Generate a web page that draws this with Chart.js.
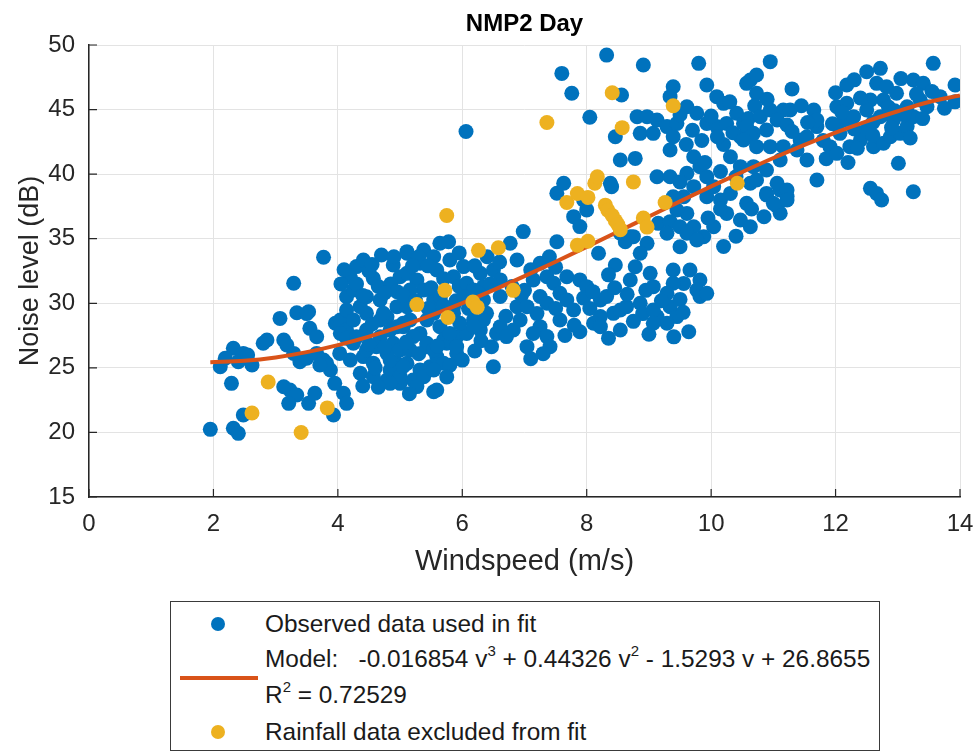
<!DOCTYPE html>
<html>
<head>
<meta charset="utf-8">
<script src="https://cdn.jsdelivr.net/npm/chart.js@4/dist/chart.umd.min.js"></script>
<style>
    body { margin: 0; background: #fff; }
    #wrap { position: relative; width: 979px; height: 752px; font-family: "Liberation Sans", Arial, sans-serif; color: #262626; }
    #chartBox { position: absolute; left: 0; top: 0; width: 979px; height: 752px; }
    #title { position: absolute; left: 89px; width: 871px; top: 9px; text-align: center; font-weight: bold; font-size: 24px; color: #000; }
    #legend { position: absolute; left: 170px; top: 601px; width: 708px; height: 148px; border: 1px solid #3a3a3a; background: #fff; }
    .row { position: absolute; left: 94px; font-size: 24.4px; white-space: nowrap; line-height: 26px; color: #1a1a1a; }
    .row sup { font-size: 15px; line-height: 0; position: relative; top: -2px; }
    .dot { position: absolute; left: 40px; width: 14px; height: 14px; border-radius: 50%; }
    .swatch { position: absolute; left: 9px; width: 78px; height: 4px; background: #D95319; }
</style>
</head>
<body>
<div id="wrap">
    <div id="chartBox"><canvas id="noiseChart"></canvas></div>
    <div id="title">NMP2 Day</div>
    <div id="legend">
        <span class="dot" style="top:15px; background:#0072BD"></span>
        <div class="row" style="top:9px">Observed data used in fit</div>
        <div class="row" style="top:44px">Model: &nbsp; -0.016854 v<sup>3</sup> + 0.44326 v<sup>2</sup> - 1.5293 v + 26.8655</div>
        <span class="swatch" style="top:74px"></span>
        <div class="row" style="top:80px">R<sup>2</sup> = 0.72529</div>
        <span class="dot" style="top:123px; background:#EDB120"></span>
        <div class="row" style="top:117px">Rainfall data excluded from fit</div>
    </div>
</div>
<script>
// windspeed (m/s), noise level (dB) - observed, used in fit
const observedPoints = [
    // below 4 m/s
    [3.77,33.56],[3.29,31.55],[3.07,28.83],[3.34,29.27],[3.53,29.35],[3.55,28.06],[3.66,27.41],[3.96,28.45],
    [2.80,26.90],[2.86,27.16],[3.13,27.16],[3.18,26.77],[2.32,26.51],[2.48,26.12],[2.40,25.48],[2.62,25.22],
    [2.11,25.09],[2.19,25.74],[2.55,26.00],[2.29,23.80],[1.95,20.24],[2.32,20.32],[2.40,19.93],[2.48,21.35],
    [3.23,23.28],[3.13,23.54],[3.34,22.90],[3.21,22.25],[3.53,22.25],[3.63,23.03],[3.93,21.35],[3.29,26.12],
    [3.39,25.48],[3.50,25.74],[3.66,26.12],[3.77,25.61],[3.88,24.83],[3.82,25.35],[3.71,25.22],[3.50,29.20],
    [3.95,23.80],
    // 4 - 5 m/s
    [4.30,32.84],[4.41,33.35],[4.70,33.74],[4.57,31.93],[4.89,32.96],[5.00,32.06],[5.11,33.87],[4.14,30.51],
    [4.25,31.03],[4.36,29.74],[4.46,29.22],[4.68,30.25],[4.79,28.96],[4.95,29.74],[5.05,28.19],[4.04,28.71],
    [4.14,27.93],[4.46,27.93],[4.68,27.41],[4.84,27.93],[4.25,26.90],[4.41,25.87],[4.57,25.35],[4.79,26.12],
    [4.95,25.35],[4.36,24.58],[4.57,24.32],[4.79,24.06],[5.00,23.80],[4.84,24.83],[4.14,29.48],[4.68,28.71],
    [4.62,26.64],[4.20,25.61],[4.89,26.90],[4.46,30.51],[4.04,27.67],[4.09,23.03],[4.14,22.25],[4.20,32.00],
    [4.50,32.50],[4.65,31.30],[4.85,31.50],[4.30,31.50],[4.95,30.90],[4.40,30.60],[4.75,30.80],[4.25,28.71],
    [4.14,27.30],[4.03,26.12],[4.46,26.38],[4.84,25.60],[5.00,26.38],[5.11,25.35],[5.00,24.32],[5.21,24.06],
    [5.32,24.84],[5.48,25.09],[5.59,25.87],[5.70,25.35],[5.43,26.64],[5.75,26.90],[5.91,27.41],[5.91,26.12],
    [6.07,27.67],[6.18,28.71],[6.39,29.22],[6.29,27.93],[5.32,27.67],[5.16,28.71],[4.95,28.19],[4.73,29.22],
    [5.64,28.19],[5.54,29.22],[5.86,29.22],[4.84,23.80],[5.54,23.15],[6.50,25.09],[6.47,26.64],[6.55,27.67],
    [4.55,33.00],[4.90,33.60],[4.05,31.50],[4.10,32.60],[4.55,28.40],[4.30,27.40],[4.50,26.80],[4.75,26.60],
    [4.65,23.50],[4.40,23.60],[4.60,25.00],
    // 5 - 6 m/s
    [5.11,34.00],[5.38,34.13],[5.64,34.65],[5.78,34.77],[5.54,33.61],[5.32,33.10],[5.11,32.32],[5.27,31.81],
    [5.59,32.58],[5.80,33.35],[5.86,32.06],[5.11,29.74],[5.05,28.45],[5.21,27.42],[5.43,28.71],[5.43,26.90],
    [5.54,26.39],[5.70,27.16],[5.80,27.67],[5.91,26.64],[5.96,28.45],[5.16,26.39],[5.05,25.10],[5.38,24.32],
    [5.54,24.84],[5.59,23.29],[5.27,23.55],[5.86,29.74],[5.54,30.26],[5.38,31.03],[5.16,31.03],[5.30,33.60],
    [5.45,32.90],[5.70,31.90],[5.50,31.20],[5.95,31.30],[5.65,30.50],[5.05,30.60],[5.25,30.20],[5.45,29.60],
    [5.70,29.80],[5.90,30.20],[5.95,33.90],[5.20,32.90],[5.10,27.00],[5.30,26.10],[5.60,26.70],[5.80,25.20],
    [5.15,23.00],[5.75,24.30],
    // 6 - 7 m/s
    [6.02,32.84],[6.07,31.55],[6.29,32.32],[6.50,32.58],[6.61,31.81],[6.34,31.29],[6.18,31.03],[6.77,34.65],
    [6.88,33.35],[6.02,30.52],[6.34,30.26],[6.61,30.52],[6.88,29.74],[6.93,28.71],[6.34,28.71],[6.18,28.19],
    [6.82,27.93],[6.61,28.19],[6.71,27.42],[6.98,35.55],[6.06,43.30],[6.10,29.60],[6.25,30.80],[6.45,31.50],
    [6.20,32.90],[6.40,33.60],[6.60,33.20],[6.00,25.60],[6.20,26.30],[6.30,27.10],[6.70,29.00],[6.95,30.60],
    [6.80,31.30],
    // 7 - 8 m/s
    [7.25,33.10],[7.36,32.06],[7.14,31.81],[7.47,31.55],[7.68,32.06],[7.89,31.81],[8.00,31.29],[7.57,30.77],
    [7.25,30.52],[7.04,29.74],[7.36,30.00],[7.68,30.26],[7.79,29.48],[7.25,28.19],[7.36,27.42],[7.41,26.64],
    [7.04,26.64],[7.14,27.67],[7.57,28.71],[7.89,27.80],[7.52,34.77],[7.79,36.71],[7.89,35.94],[8.00,37.23],
    [7.95,38.00],[7.52,38.52],[7.63,39.29],[7.60,47.80],[7.76,46.26],[8.05,44.40],[7.10,32.60],[7.40,33.60],
    [7.20,29.20],[7.50,29.60],[7.65,27.50],[7.80,28.30],[7.00,31.00],[7.50,32.80],[7.95,30.40],[7.10,25.70],
    [7.30,26.10],
    // 8 - 9 m/s
    [8.22,30.26],[8.32,30.52],[8.43,29.22],[8.22,28.97],[8.54,29.48],[8.64,29.74],[8.11,28.45],[8.22,28.19],
    [8.54,27.93],[8.19,33.87],[8.46,32.97],[8.62,34.77],[8.38,39.29],[8.54,35.42],[8.70,35.16],[8.32,49.22],
    [8.91,48.45],[8.56,46.13],[8.46,42.90],[8.54,41.10],[8.78,41.22],[8.81,44.45],[8.97,44.45],[8.86,43.16],
    [8.75,35.16],[8.97,34.64],[8.86,33.87],[8.78,32.83],[8.40,39.03],[8.86,30.00],[8.10,30.90],[8.45,31.20],
    [8.70,31.80],[8.95,31.00],[8.35,32.20],[8.65,30.70],[8.90,29.20],[8.75,28.60],[9.00,27.60],[8.35,27.30],
    [8.05,29.60],
    // 9 - 10.5 m/s
    [9.80,48.58],[9.34,41.87],[9.39,46.77],[9.34,46.00],[9.13,44.19],[9.07,43.16],[9.29,43.68],[9.45,43.93],
    [9.39,42.90],[9.93,46.90],[10.09,46.00],[10.20,45.48],[9.61,45.22],[9.77,44.71],[9.93,43.93],[10.09,43.68],
    [10.25,43.93],[10.41,44.71],[10.52,43.93],[10.47,42.90],[10.68,43.16],[10.57,47.03],[10.73,46.26],[9.72,41.35],
    [9.82,40.58],[9.61,40.06],[9.93,39.80],[9.72,39.03],[9.56,38.25],[9.93,38.25],[10.15,38.00],[10.31,38.51],
    [10.04,39.03],[10.31,41.35],[10.47,40.58],[10.63,39.29],[10.25,36.96],[10.47,36.45],[10.63,35.93],[10.04,35.93],
    [9.88,35.16],[9.72,35.93],[9.61,36.96],[9.45,37.22],[9.13,39.80],[9.34,39.80],[9.39,38.25],[9.15,36.19],
    [9.34,36.32],[9.50,35.93],[9.29,35.42],[9.61,35.42],[9.77,34.90],[9.50,34.38],[9.02,32.32],[9.39,32.58],
    [9.66,32.58],[9.82,31.80],[9.56,31.54],[9.39,31.55],[9.07,31.29],[9.29,30.77],[9.77,31.03],[9.82,30.52],
    [9.93,30.77],[9.34,29.74],[9.45,28.97],[9.13,28.97],[9.07,29.48],[9.29,28.45],[9.64,27.80],[9.07,28.45],
    [9.70,43.40],[10.00,44.50],[10.35,43.20],[10.60,44.30],[9.85,42.60],[10.20,42.30],[9.50,44.60],[10.70,45.30],
    [9.90,40.90],[10.15,40.20],[9.50,39.40],[10.40,39.80],[9.20,30.20],[9.50,30.30],[9.55,29.30],[9.40,27.40],
    [10.20,34.40],[10.40,35.20],[10.15,37.30],[9.95,36.60],[10.30,45.60],[10.10,42.90],[9.60,42.30],
    // 10.5 - 12 m/s
    [10.89,38.39],[11.11,38.78],[11.22,38.26],[11.06,37.49],[11.11,36.97],[10.95,48.71],[10.63,47.29],[10.73,47.68],
    [10.57,43.68],[10.63,42.90],[10.52,42.64],[10.79,44.45],[10.95,44.97],[11.16,44.97],[11.27,44.97],[11.06,44.19],
    [11.22,43.80],[10.89,43.42],[10.73,42.13],[10.95,42.13],[11.16,42.13],[11.11,41.10],[10.89,40.32],[10.73,39.55],
    [10.89,38.51],[11.06,39.29],[11.22,38.77],[11.22,38.00],[11.00,37.74],[10.57,37.74],[10.68,40.58],[11.43,42.64],
    [11.54,42.90],[11.70,43.68],[11.38,41.87],[11.54,41.10],[11.70,39.55],[11.65,44.97],[11.70,44.19],[10.65,37.30],
    [10.85,36.70],[10.90,45.80],[11.30,46.60],[11.45,45.30],[11.55,44.00],[11.30,43.30],[11.80,42.60],[11.85,41.20],
    // above 12 m/s
    [12.02,45.22],[12.18,45.48],[12.13,44.19],[12.29,44.45],[12.07,43.16],[11.91,42.13],[12.02,41.61],[12.23,42.13],
    [12.40,42.64],[12.50,43.42],[12.61,42.13],[12.77,42.39],[12.88,42.90],[13.04,43.16],[13.15,43.68],[13.25,44.45],
    [13.47,45.22],[13.68,46.00],[13.92,46.90],[13.92,45.60],[12.18,46.90],[12.50,47.93],[12.72,48.19],[12.66,47.03],
    [12.82,46.77],[12.98,46.26],[12.77,45.74],[12.56,45.74],[12.50,44.97],[12.72,44.45],[12.93,44.19],[13.15,45.22],
    [13.36,45.74],[13.25,47.29],[13.41,47.03],[13.57,48.58],[13.01,40.84],[12.56,38.90],[12.66,38.51],[12.74,38.00],
    [13.25,38.64],[12.30,43.50],[12.60,44.00],[12.90,43.60],[13.10,44.60],[12.40,45.90],[13.30,46.20],[11.95,43.90],
    [12.85,45.20],[12.10,44.80],[12.35,42.00],[12.60,43.00],[12.95,44.90],[13.20,42.80],[13.40,44.30],[13.55,46.40],
    [13.75,45.10],[13.05,47.40],[12.30,47.30],[12.00,46.30],[12.20,40.90]
];

// points recorded during rainfall, excluded from the fit
const rainfallPoints = [
    [2.62,21.50],[2.88,23.90],[3.41,20.00],[3.83,21.90],[5.27,29.90],[5.72,31.00],[5.75,36.80],[5.77,28.90],
    [6.17,30.10],[6.24,29.70],[6.26,34.10],[6.58,34.30],[6.82,31.00],[7.36,44.00],[7.68,37.80],[7.85,38.50],
    [7.85,34.50],[8.02,38.20],[8.02,34.80],[8.13,39.30],[8.17,39.80],[8.30,37.60],[8.34,37.20],[8.41,36.80],
    [8.41,46.30],[8.46,36.40],[8.50,36.10],[8.54,35.70],[8.57,43.60],[8.75,39.40],[8.91,36.60],[8.97,35.90],
    [9.26,37.80],[9.39,45.30],[10.42,39.30]
];

// fitted cubic model, sampled along windspeed
const modelSpeeds = [1.95, 2.5, 3, 3.5, 4, 4.5, 5, 5.5, 6, 6.5, 7, 7.5, 8, 8.5, 9, 9.5, 10, 10.5, 11, 11.5, 12, 12.5, 13, 13.5, 14];
const modelLevels = [25.44, 25.55, 25.81, 26.22, 26.76, 27.42, 28.19, 29.06, 30.01, 31.02, 32.10, 33.22, 34.37, 35.54, 36.72, 37.89, 39.05, 40.17, 41.25, 42.27, 43.22, 44.09, 44.87, 45.59, 46.09];

const xTickStep = 2;
const yTickStep = 5;

const axisColor = '#262626';
const gridColor = '#e3e3e3';
const fontFamily = '"Liberation Sans", Arial, sans-serif';

// MATLAB style short tick marks pointing into the axes
const innerTicks = {
    id: 'innerTicks',
    afterDatasetsDraw(chart) {
        const {ctx, chartArea, scales} = chart;
        ctx.save();
        ctx.strokeStyle = axisColor;
        ctx.lineWidth = 1.2;
        ctx.beginPath();
        scales.x.ticks.forEach(t => {
            const px = scales.x.getPixelForValue(t.value);
            ctx.moveTo(px, chartArea.bottom);
            ctx.lineTo(px, chartArea.bottom - 8);
        });
        scales.y.ticks.forEach(t => {
            const py = scales.y.getPixelForValue(t.value);
            ctx.moveTo(chartArea.left, py);
            ctx.lineTo(chartArea.left + 8, py);
        });
        ctx.stroke();
        ctx.restore();
    }
};

const ctx = document.getElementById('noiseChart').getContext('2d');
new Chart(ctx, {
    type: 'scatter',
    data: {
        datasets: [
            {
                label: 'Rainfall data excluded from fit',
                data: rainfallPoints.map(p => ({x: p[0], y: p[1]})),
                backgroundColor: '#EDB120',
                borderWidth: 0,
                pointRadius: 7.5,
                order: 0
            },
            {
                label: 'Model',
                data: modelSpeeds.map((v, i) => ({x: v, y: modelLevels[i]})),
                showLine: true,
                borderColor: '#D95319',
                borderWidth: 4,
                pointRadius: 0,
                cubicInterpolationMode: 'monotone',
                order: 1
            },
            {
                label: 'Observed data used in fit',
                data: observedPoints.map(p => ({x: p[0], y: p[1]})),
                backgroundColor: '#0072BD',
                borderWidth: 0,
                pointRadius: 7.5,
                order: 2
            }
        ]
    },
    options: {
        responsive: true,
        maintainAspectRatio: false,
        animation: false,
        layout: { padding: { top: 45, right: 19, bottom: 165, left: 0 } },
        plugins: {
            legend: { display: false },
            tooltip: { enabled: false }
        },
        scales: {
            x: {
                type: 'linear',
                min: 0,
                max: 14,
                afterFit: scale => {
                    scale.height = 90;
                    scale.paddingLeft = 0;
                    scale.paddingRight = 0;
                },
                ticks: { stepSize: xTickStep, color: axisColor, padding: 13, font: { family: fontFamily, size: 24 } },
                grid: { color: gridColor, drawTicks: false },
                border: { color: axisColor, width: 1.5 },
                title: {
                    display: true,
                    text: 'Windspeed (m/s)',
                    color: axisColor,
                    padding: { top: 0, bottom: 8 },
                    font: { family: fontFamily, size: 29 }
                }
            },
            y: {
                min: 15,
                max: 50,
                afterFit: scale => { scale.width = 89; },
                ticks: { stepSize: yTickStep, color: axisColor, padding: 14, font: { family: fontFamily, size: 24 } },
                grid: { color: gridColor, drawTicks: false },
                border: { color: axisColor, width: 1.5 },
                title: {
                    display: true,
                    text: 'Noise level (dB)',
                    color: axisColor,
                    padding: { top: 14, bottom: 0 },
                    font: { family: fontFamily, size: 27 }
                }
            }
        }
    },
    plugins: [innerTicks]
});
</script>
</body>
</html>
